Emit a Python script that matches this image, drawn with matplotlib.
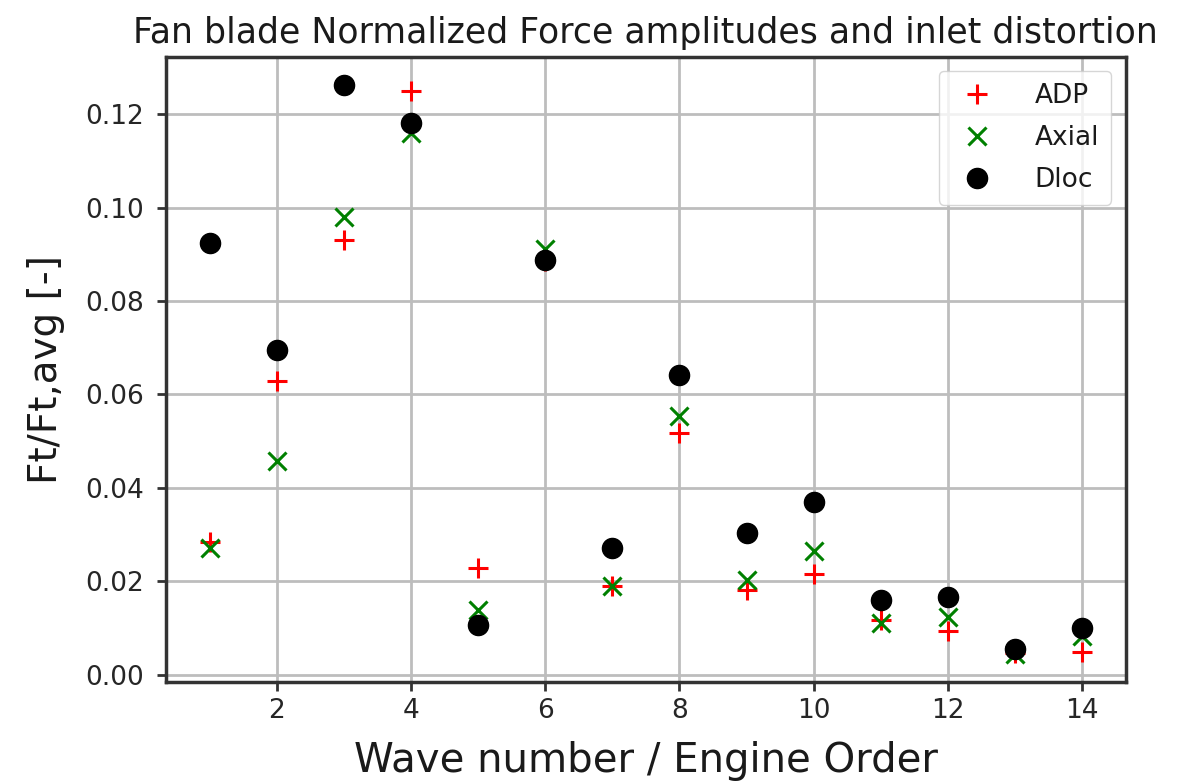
import matplotlib
matplotlib.use("Agg")
import matplotlib.pyplot as plt

# Engine orders / wave numbers
orders = [1, 2, 3, 4, 5, 6, 7, 8, 9, 10, 11, 12, 13, 14]

# Normalized tangential force amplitudes Ft/Ft,avg for each distortion case
adp = [0.0284, 0.0628, 0.0930, 0.1249, 0.0228, 0.0886, 0.0191,
       0.0518, 0.0181, 0.0216, 0.0118, 0.0093, 0.0046, 0.0049]
axial = [0.0272, 0.0457, 0.0979, 0.1160, 0.0138, 0.0911, 0.0191,
         0.0553, 0.0204, 0.0265, 0.0111, 0.0123, 0.0045, 0.0084]
dloc = [0.0924, 0.0695, 0.1262, 0.1182, 0.0106, 0.0887, 0.0271,
        0.0641, 0.0303, 0.0370, 0.0161, 0.0166, 0.0056, 0.0100]

title = "Fan blade Normalized Force amplitudes and inlet distortion"
xlabel = "Wave number / Engine Order"
ylabel = "Ft/Ft,avg [-]"

plt.rcParams["font.family"] = ["DejaVu Sans"]

fig = plt.figure(figsize=(11.85, 7.83), dpi=100)
ax = fig.add_axes([0.1401, 0.1286, 0.8099, 0.7990])

ax.plot(orders, adp, linestyle="none", marker="+", color="red",
        markersize=14, markeredgewidth=2.2, label="ADP")
ax.plot(orders, axial, linestyle="none", marker="x", color="green",
        markersize=13, markeredgewidth=2.2, label="Axial")
ax.plot(orders, dloc, linestyle="none", marker="o", color="black",
        markersize=14.5, label="Dloc")

ax.set_xticks([2, 4, 6, 8, 10, 12, 14])
ax.set_yticks([0.00, 0.02, 0.04, 0.06, 0.08, 0.10, 0.12])
ax.yaxis.set_major_formatter(matplotlib.ticker.FormatStrFormatter("%.2f"))

ax.grid(True, color="#bdbdbd", linewidth=2.0)
ax.set_axisbelow(True)
for side in ax.spines.values():
    side.set_color("#333333")
    side.set_linewidth(2.5)

ax.tick_params(axis="both", direction="out", length=6.5, width=2.0,
               color="#333333", labelcolor="#262626", labelsize=19)
ax.tick_params(axis="y", pad=9)
ax.tick_params(axis="x", pad=5)

ax.set_title(title, fontsize=25, color="#1a1a1a", pad=10)
ax.set_xlabel(xlabel, fontsize=29, color="#1a1a1a", labelpad=12)
ax.set_ylabel(ylabel, fontsize=28, color="#1a1a1a", labelpad=15)

leg = ax.legend(loc="upper right", fontsize=19, handletextpad=1.2,
                borderpad=0.45, labelspacing=0.6, handlelength=2.0,
                framealpha=0.8, edgecolor="#cccccc", fancybox=True,
                borderaxespad=0.55)
for t in leg.get_texts():
    t.set_color("#1a1a1a")

fig.savefig("out.png", dpi=100)
